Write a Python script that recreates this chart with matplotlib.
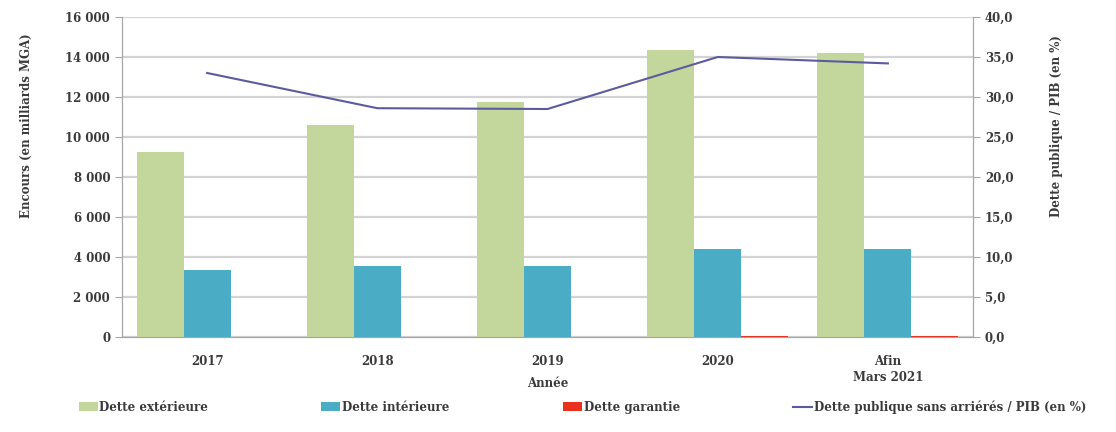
import matplotlib.pyplot as plt
import numpy as np

plt.rcParams['font.family'] = ['DejaVu Serif']
plt.rcParams['font.weight'] = 'bold'

annees = ['2017', '2018', '2019', '2020', 'Afin\nMars 2021']
dette_ext = [9250, 10600, 11750, 14350, 14200]
dette_int = [3350, 3550, 3550, 4400, 4400]
dette_gar = [5, 5, 5, 40, 40]
ratio_pib = [33.0, 28.6, 28.5, 35.0, 34.2]

fig = plt.figure(figsize=(11.16, 4.32), dpi=100)
ax = fig.add_axes([122/1116, 1-337/432, 851/1116, 320/432])
ax2 = ax.twinx()

x = np.arange(len(annees))
w = 0.276
ax.bar(x - w, dette_ext, w, color='#C3D69B', label='Dette extérieure', zorder=3)
ax.bar(x, dette_int, w, color='#4BACC6', label='Dette intérieure', zorder=3)
ax.bar(x + w, dette_gar, w, color='#E8321E', label='Dette garantie', zorder=3)
ax2.plot(x, ratio_pib, color='#5A5C9E', lw=1.5, label='Dette publique sans arriérés / PIB (en %)')

ax.set_xlim(-0.5, len(annees) - 0.5)
ax.set_ylim(0, 16000)
ax2.set_ylim(0, 40)
ax.set_yticks(range(0, 16001, 2000))
ax.set_yticklabels([f'{v:,}'.replace(',', ' ') for v in range(0, 16001, 2000)])
ax2.set_yticks(range(0, 41, 5))
ax2.set_yticklabels([f'{v:.1f}'.replace('.', ',') for v in range(0, 41, 5)])
ax.set_xticks(x)
ax.set_xticklabels(annees, linespacing=1.3)

ax.grid(axis='y', color='#D3D3D3', lw=1.6, zorder=0)
for a in (ax, ax2):
    a.spines['top'].set_visible(False)
    for s in ('left', 'right', 'bottom'):
        a.spines[s].set_color('#A6A6A6')
    a.tick_params(axis='y', colors='#3a3a3a', labelsize=8.5, length=5, color='#A6A6A6')
ax.tick_params(axis='x', length=0, labelsize=8.5, pad=13, colors='#3a3a3a')

ax.set_xlabel('Année', fontsize=8.5, fontweight='bold', color='#3a3a3a')
ax.xaxis.set_label_coords(0.5, -0.125)
ax.set_ylabel('Encours (en milliards MGA)', fontsize=8.5, fontweight='bold', color='#3a3a3a')
ax.yaxis.set_label_coords(-0.105, 0.66)
ax2.set_ylabel('Dette publique / PIB (en %)', fontsize=8.5, fontweight='bold', color='#3a3a3a')
ax2.yaxis.set_label_coords(1.09, 0.66)

h1, l1 = ax.get_legend_handles_labels()
h2, l2 = ax2.get_legend_handles_labels()
fig.legend(h1 + h2, l1 + l2, loc='center left', bbox_to_anchor=(68/1116, 1-407/432), ncol=4,
           frameon=False, fontsize=8.5, handlelength=1.6, handletextpad=0.15,
           columnspacing=9.6, labelcolor='#3a3a3a')

fig.savefig('out.png', dpi=100)
